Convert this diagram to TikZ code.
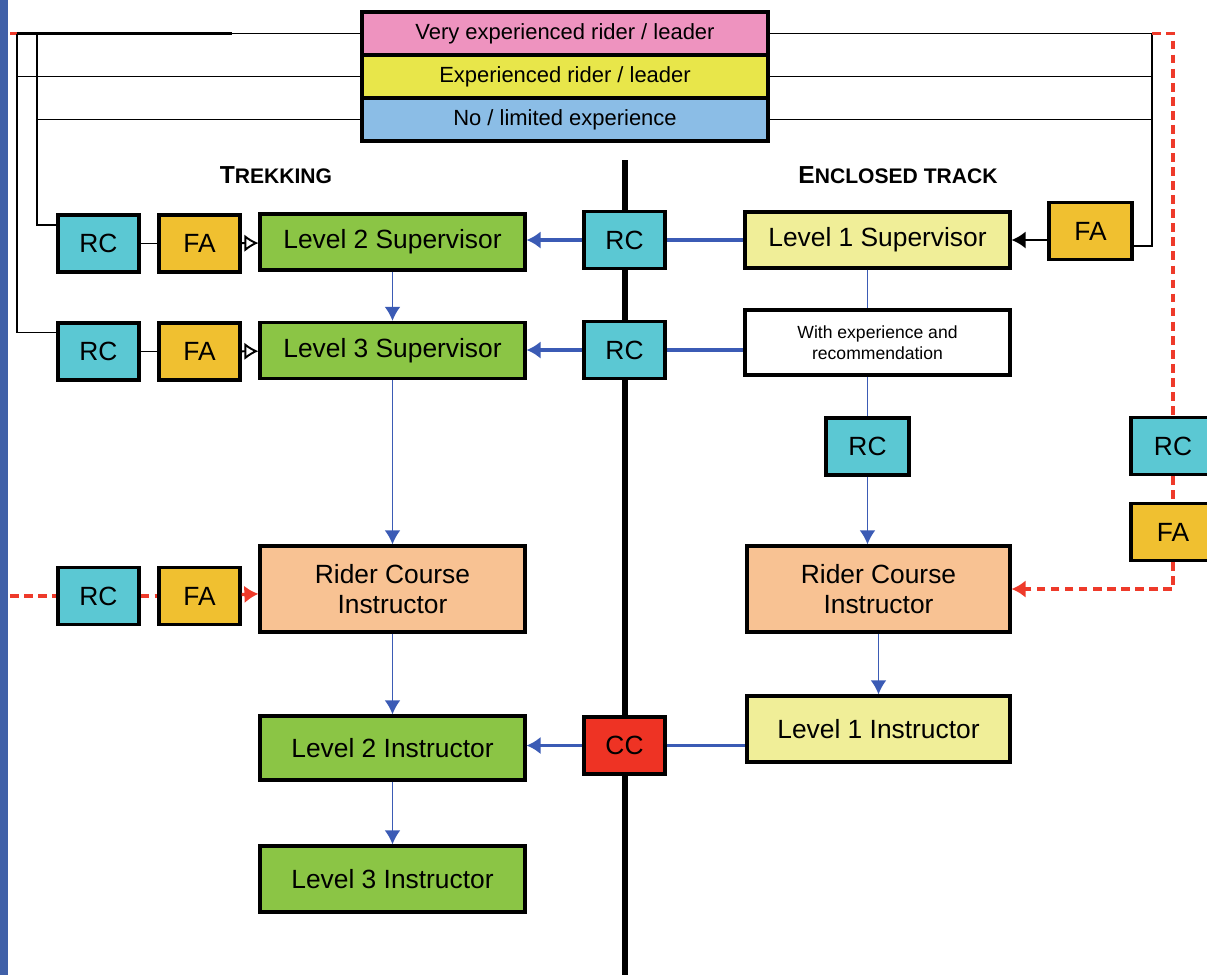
\documentclass[tikz,border=0pt]{standalone}
\usepackage{fontspec}
\setmainfont{Liberation Sans}
\usetikzlibrary{arrows.meta}
\definecolor{TrkStrip}{RGB}{64,96,168}
\definecolor{TrkPink}{RGB}{238,147,191}
\definecolor{TrkYellow}{RGB}{232,230,74}
\definecolor{TrkSky}{RGB}{139,189,230}
\definecolor{TrkCyan}{RGB}{91,200,211}
\definecolor{TrkAmber}{RGB}{240,192,48}
\definecolor{TrkGreen}{RGB}{139,197,69}
\definecolor{TrkPeach}{RGB}{248,194,147}
\definecolor{TrkPale}{RGB}{240,238,152}
\definecolor{TrkCC}{RGB}{238,51,36}
\definecolor{TrkBlue}{RGB}{59,91,181}
\definecolor{TrkRed}{RGB}{238,58,42}
\newcommand{\trksc}[1]{{\fontsize{12}{14}\selectfont #1}}
\tikzset{
  trk/box/.style={
    draw=black,
    line width=1.8pt,
    align=center,
    text=black,
    inner sep=2pt,
    font=\fontsize{15}{17}\selectfont
  },
  trk/small/.style={trk/box, minimum width=1.62cm, minimum height=1.14cm},
  trk/rc/.style={trk/small, fill=TrkCyan},
  trk/fa/.style={trk/small, fill=TrkAmber},
  trk/wide/.style={trk/box, minimum width=5.3cm, minimum height=1.12cm},
  trk/level/.style={trk/box, minimum width=8.12cm, minimum height=0.86cm, font=\fontsize{12.5}{14}\selectfont},
  trk/link/.style={draw=black, line width=1.1pt},
  trk/openarrow/.style={trk/link, -{Latex[open,length=8pt,width=10pt]}},
  trk/arrow/.style={draw=black, line width=1.6pt, -{Latex[length=8pt,width=10pt]}},
  trk/blue/.style={draw=TrkBlue, line width=1.8pt},
  trk/bluearrow/.style={trk/blue, -{Latex[length=8pt,width=10pt]}},
  trk/thinblue/.style={draw=TrkBlue, line width=1.1pt},
  trk/thinbluearrow/.style={trk/thinblue, -{Latex[length=8pt,width=9pt]}},
  trk/red/.style={draw=TrkRed, line width=1.8pt, dash pattern=on 5pt off 3pt},
  trk/redarrow/.style={trk/red, -{Latex[length=8pt,width=10pt]}},
  trk/head/.style={font=\bfseries\fontsize{14}{16}\selectfont},
  trk/spine/.style={draw=black, line width=3pt}
}
\begin{document}
\begin{tikzpicture}[x=0.02cm,y=-0.02cm]
  \useasboundingbox (0,0) rectangle (1207,975);
  \fill[TrkStrip] (0,0) rectangle (8,975);
  \draw[trk/spine] (625,160) -- (625,975);
  % experience key
  \node[trk/level,fill=TrkPink] (keyVery) at (565,33.5) {Very experienced rider / leader};
  \node[trk/level,fill=TrkYellow] (keyExp) at (565,76.5) {Experienced rider / leader};
  \node[trk/level,fill=TrkSky] (keyNone) at (565,119.5) {No / limited experience};
  \node[trk/head] (trekHead) at (276,175) {T\trksc{REKKING}};
  \node[trk/head] (trackHead) at (898,175) {E\trksc{NCLOSED TRACK}};
  % trekking side
  \node[trk/rc] (rcA) at (98.5,243.5) {RC};
  \node[trk/fa] (faA) at (199.5,243.5) {FA};
  \node[trk/wide,fill=TrkGreen] (supTwo) at (392.5,242) {Level 2 Supervisor};
  \node[trk/rc] (rcB) at (98.5,351.5) {RC};
  \node[trk/fa] (faB) at (199.5,351.5) {FA};
  \node[trk/wide,fill=TrkGreen] (supThree) at (392.5,350.5) {Level 3 Supervisor};
  \node[trk/rc] (rcC) at (98.5,596) {RC};
  \node[trk/fa] (faC) at (199.5,596) {FA};
  \node[trk/wide,fill=TrkPeach,minimum height=1.72cm] (instrL) at (392.5,589) {Rider Course\\Instructor};
  \node[trk/wide,fill=TrkGreen,minimum height=1.28cm] (instTwo) at (392.5,748) {Level 2 Instructor};
  \node[trk/wide,fill=TrkGreen,minimum height=1.32cm] (instThree) at (392.5,879) {Level 3 Instructor};
  % centre checks
  \node[trk/rc] (rcMidA) at (624.5,240) {RC};
  \node[trk/rc] (rcMidB) at (624.5,350) {RC};
  \node[trk/small,fill=TrkCC] (ccMid) at (624.5,745.5) {CC};
  % enclosed track side
  \node[trk/wide,fill=TrkPale] (supOne) at (877.5,240) {Level 1 Supervisor};
  \node[trk/fa,minimum width=1.66cm] (faR) at (1090.5,231) {FA};
  \node[trk/wide,fill=white,minimum height=1.3cm,font=\fontsize{10}{12}\selectfont] (withExp) at (877.5,342.5) {With experience and\\recommendation};
  \node[trk/rc,minimum width=1.66cm] (rcR) at (867.5,446.5) {RC};
  \node[trk/wide,fill=TrkPeach,minimum width=5.26cm,minimum height=1.72cm] (instrR) at (878.5,589) {Rider Course\\Instructor};
  \node[trk/wide,fill=TrkPale,minimum width=5.26cm,minimum height=1.32cm] (instOne) at (878.5,729) {Level 1 Instructor};
  \node[trk/rc,minimum width=1.68cm] (rcFar) at (1173,446) {RC};
  \node[trk/fa,minimum width=1.68cm] (faFar) at (1173,532) {FA};
  % key rails
  \coordinate (railL) at (17,33.5);
  \coordinate (railM) at (37,33.5);
  \coordinate (railR) at (1152,33.5);
  \coordinate (redL) at (10,33.5);
  \coordinate (thickEnd) at (232,33.5);
  \coordinate (redR) at (1173,33.5);
  \coordinate (redIn) at (10,596);
  \draw[trk/link] (keyVery.west) -- (railL);
  \draw[line width=2pt] (railL) -- (thickEnd);
  \draw[trk/red,dash pattern=] (railL) -- (redL);
  \draw[trk/link] (railL) |- ([yshift=0.38cm]rcB.west);
  \draw[trk/link] (railM) |- ([yshift=0.37cm]rcA.west);
  \draw[trk/link] (keyExp.west) -- (keyExp.west -| railL);
  \draw[trk/link] (keyNone.west) -- (keyNone.west -| railM);
  \draw[trk/link] (keyVery.east) -- (railR);
  \draw[trk/link] (keyExp.east) -- (keyExp.east -| railR);
  \draw[trk/link] (keyNone.east) -- (keyNone.east -| railR);
  \draw[trk/link] (railR) |- ([yshift=-0.3cm]faR.east);
  \draw[trk/arrow] (faR.west |- supOne.east) -- (supOne.east);
  % trekking links
  \draw[trk/link] (rcA) -- (faA);
  \draw[trk/openarrow] (faA) -- (supTwo);
  \draw[trk/link] (rcB) -- (faB);
  \draw[trk/openarrow] (faB) -- (supThree);
  \draw[trk/red] (redIn) -- (rcC);
  \draw[trk/red] (rcC) -- (faC);
  \draw[trk/redarrow] (faC) -- (instrL);
  \draw[trk/thinbluearrow] (supTwo) -- (supThree);
  \draw[trk/thinbluearrow] (supThree) -- (instrL);
  \draw[trk/thinbluearrow] (instrL) -- (instTwo);
  \draw[trk/thinbluearrow] (instTwo) -- (instThree);
  % across the spine
  \draw[trk/blue] (supOne) -- (rcMidA);
  \draw[trk/bluearrow] (rcMidA) -- (supTwo.east |- rcMidA);
  \draw[trk/blue] (rcMidB) -- (rcMidB -| withExp.west);
  \draw[trk/bluearrow] (rcMidB) -- (supThree.east |- rcMidB);
  \draw[trk/blue] (ccMid) -- (ccMid -| instOne.west);
  \draw[trk/bluearrow] (ccMid) -- (instTwo.east |- ccMid);
  % enclosed track links
  \draw[trk/thinblue] (rcR |- supOne.south) -- (rcR |- withExp.north);
  \draw[trk/thinblue] (rcR |- withExp.south) -- (rcR);
  \draw[trk/thinbluearrow] (rcR) -- (rcR |- instrR.north);
  \draw[trk/thinbluearrow] (instrR) -- (instOne);
  \draw[trk/red] (railR) -- (redR) -- (rcFar);
  \draw[trk/red] (rcFar) -- (faFar);
  \draw[trk/redarrow] (faFar) |- (instrR.east);
\end{tikzpicture}
\end{document}
